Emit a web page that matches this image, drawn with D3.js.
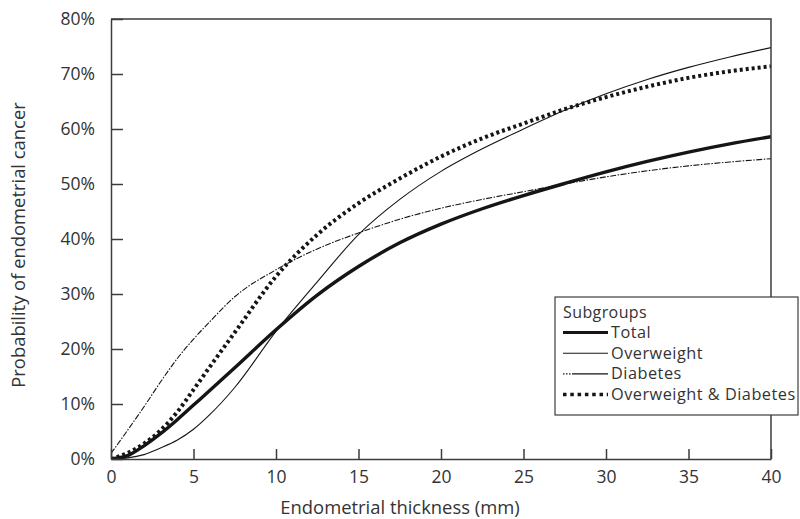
<!DOCTYPE html>
<html>
<head>
<meta charset="utf-8">
<script src="https://cdn.jsdelivr.net/npm/d3@7"></script>
<style>
  html, body { margin: 0; padding: 0; background: #fff; }
  svg { display: block; }
  text { font-family: "Open Sans", "Noto Sans", sans-serif; fill: #333; }
</style>
</head>
<body>
<svg id="chart" width="800" height="519"></svg>
<script>
// Endometrial thickness (mm) at which each curve is sampled
const thickness = [0, 1, 2, 3, 4, 5, 6, 7.5, 10, 12.5, 15, 17.5, 20, 22.5, 25, 27.5, 30, 32.5, 35, 37.5, 40];

// Probability of endometrial cancer (%) per subgroup
const totalValues      = [0, 0.6, 2.4, 4.6, 7.1, 9.8, 12.5, 16.6, 23.5, 29.8, 35, 39.3, 42.7, 45.5, 47.9, 50.1, 52.2, 54.1, 55.8, 57.3, 58.6];
const overweightValues = [0, 0.2, 0.8, 2.0, 3.4, 5.4, 8.1, 13.0, 23.2, 32.2, 40.8, 47.2, 52.3, 56.4, 60, 63.4, 66.4, 69, 71.2, 73.1, 74.8];
const diabetesValues   = [1, 5.2, 9.5, 14, 18.2, 21.8, 25, 29.5, 34.4, 38.2, 41.1, 43.6, 45.6, 47.2, 48.6, 50, 51.3, 52.4, 53.3, 54, 54.6];
const owDiabetesValues = [0, 1.1, 2.8, 5.2, 8.5, 12.6, 16.8, 23, 33.2, 40.8, 46.5, 51, 55, 58.3, 61, 63.6, 65.8, 67.7, 69.3, 70.5, 71.4];

const seriesNames = ["Total", "Overweight", "Diabetes", "Overweight & Diabetes"];

// Tick values
const xTicks = [0, 5, 10, 15, 20, 25, 30, 35, 40];
const yTicks = [0, 10, 20, 30, 40, 50, 60, 70, 80];

const svg = d3.select("#chart");
const margin = { left: 111, right: 29, top: 19, bottom: 60 };
const W = 800, H = 519;

const x = d3.scaleLinear().domain([0, 40]).range([margin.left, W - margin.right]);
const y = d3.scaleLinear().domain([0, 80]).range([H - margin.bottom, margin.top]);

const axisColor = "#3c3c3c";
const inkColor = "#151515";

// Line styles per subgroup: plot stroke and legend sample stroke
const styles = [
  { width: 3.4, dash: null,            legendWidth: 3,   legendDash: null },
  { width: 1.1, dash: null,            legendWidth: 1.1, legendDash: null },
  { width: 1.1, dash: "6,1.5,1.5,1.5", legendWidth: 1.1, legendDash: "1.5,1.5,1.5,1.5,1.5,1.5,40,0" },
  { width: 4,   dash: "3,3",           legendWidth: 3.5, legendDash: "3.5,3.8" }
];

const seriesValues = [totalValues, overweightValues, diabetesValues, owDiabetesValues];

svg.append("defs").append("clipPath").attr("id", "plotClip")
  .append("rect")
  .attr("x", x(0)).attr("y", y(80))
  .attr("width", x(40) - x(0)).attr("height", y(0) - y(80));

const line = d3.line()
  .x(d => x(d[0]))
  .y(d => y(d[1]))
  .curve(d3.curveMonotoneX);

const curves = svg.append("g").attr("clip-path", "url(#plotClip)");
seriesValues.forEach((vals, i) => {
  const pts = thickness.map((t, j) => [t, vals[j]]);
  curves.append("path")
    .datum(pts)
    .attr("d", line)
    .attr("fill", "none")
    .attr("stroke", inkColor)
    .attr("stroke-width", styles[i].width)
    .attr("stroke-dasharray", styles[i].dash)
    .attr("stroke-linejoin", "round");
});

// Axes with inward ticks
const xAxis = d3.axisBottom(x).tickValues(xTicks).tickSizeInner(-10).tickSizeOuter(0).tickPadding(12);
const yAxis = d3.axisLeft(y).tickValues(yTicks).tickSizeInner(-12).tickSizeOuter(0).tickPadding(16)
  .tickFormat(d => d + "%");

const gx = svg.append("g").attr("transform", `translate(0,${y(0)})`).call(xAxis);
const gy = svg.append("g").attr("transform", `translate(${x(0)},0)`).call(yAxis);

[gx, gy].forEach(g => {
  g.select(".domain").attr("stroke", axisColor).attr("stroke-width", 1.5);
  g.selectAll(".tick line").attr("stroke", axisColor).attr("stroke-width", 1.5);
  g.selectAll(".tick text")
    .attr("font-family", "'Open Sans', sans-serif")
    .attr("font-size", 17.5)
    .attr("fill", "#333");
});
gy.selectAll(".tick text").attr("dy", "0.34em");

// Top and right frame
svg.append("path")
  .attr("d", `M${x(0)},${y(80)}H${x(40)}V${y(0)}`)
  .attr("fill", "none")
  .attr("stroke", axisColor)
  .attr("stroke-width", 1.5);

// Axis titles
svg.append("text")
  .attr("x", 400)
  .attr("y", 514)
  .attr("text-anchor", "middle")
  .attr("font-size", 18.4)
  .text("Endometrial thickness (mm)");

svg.append("text")
  .attr("transform", `translate(25,245) rotate(-90)`)
  .attr("text-anchor", "middle")
  .attr("font-size", 18.4)
  .text("Probability of endometrial cancer");

// Legend
const lg = svg.append("g").attr("transform", "translate(555,297)");
lg.append("rect")
  .attr("x", 0).attr("y", 0)
  .attr("width", 243).attr("height", 118)
  .attr("fill", "#fff")
  .attr("stroke", axisColor)
  .attr("stroke-width", 1.2);

lg.append("text")
  .attr("x", 8).attr("y", 21)
  .attr("font-size", 16)
  .attr("letter-spacing", 0.4)
  .text("Subgroups");

seriesNames.forEach((name, i) => {
  const by = 41 + i * 20.7;
  lg.append("line")
    .attr("x1", 8).attr("x2", 53)
    .attr("y1", by - 5.5).attr("y2", by - 5.5)
    .attr("stroke", inkColor)
    .attr("stroke-width", styles[i].legendWidth)
    .attr("stroke-dasharray", styles[i].legendDash);
  lg.append("text")
    .attr("x", 56).attr("y", by)
    .attr("font-size", 16.3)
    .attr("letter-spacing", 0.5)
    .text(name);
});
</script>
</body>
</html>
